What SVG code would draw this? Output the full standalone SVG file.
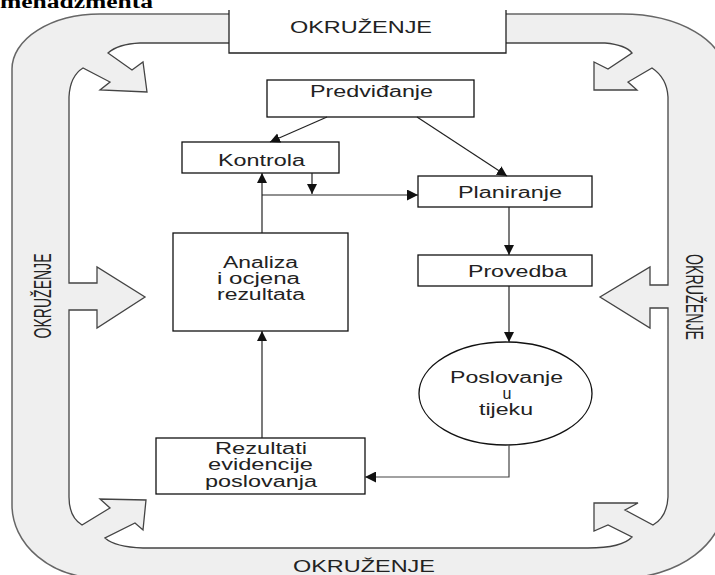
<svg xmlns="http://www.w3.org/2000/svg" width="715" height="575" viewBox="0 0 715 575">
<style>
text{font-family:"Liberation Sans",Arial,sans-serif;fill:#222;}
.lbl{font-size:16px;text-anchor:middle;}
.env{font-size:16px;text-anchor:middle;fill:#222;}
.box{fill:#fff;stroke:#111;stroke-width:1.3;}
.con{fill:none;stroke:#222;stroke-width:1.2;}
.band{fill:#efefef;stroke:#666;stroke-width:1.5;}
.inner{fill:#fff;stroke:#444;stroke-width:1.3;stroke-linejoin:miter;}
</style>
<defs>
<marker id="hv" viewBox="0 0 10 10" refX="10" refY="5" markerUnits="userSpaceOnUse" markerWidth="10" markerHeight="16" orient="auto">
<path d="M0,0 L10,5 L0,10 Z" fill="#111"/>
</marker>
<marker id="hh" viewBox="0 0 10 10" refX="10" refY="5" markerUnits="userSpaceOnUse" markerWidth="12" markerHeight="11" orient="auto">
<path d="M0,0 L10,5 L0,10 Z" fill="#111"/>
</marker>
</defs>
<rect width="715" height="575" fill="#fff"/>
<text x="0" y="8" style="font-family:'Liberation Serif','Times New Roman',serif;font-weight:bold;font-size:18px;fill:#000" textLength="153" lengthAdjust="spacingAndGlyphs">menadžmenta</text>
<g id="okruzenje-frame">
<path class="band" d="M12,69 A88,55 0 0 1 100,14 L622,14 A103,60 0 0 1 725,74 L725,500 A103,78 0 0 1 622,578 L100,578 A88,73 0 0 1 12,505 Z"/>
<path class="inner" d="M69,283 L69,97 Q70,76 83,68 L110,82 L100,90 L147,92 L143,62 L132,70 L108,53 Q118,44 140,43 L605,43 Q626,45 632,53 L608,69 L594,62 L594,90 L637,90 L628,82 L652,68 Q667,78 668,97 L668,285 L650,285 L650,267 L600,297 L650,328 L650,308 L668,308 L668,497 Q667,517 653,525 L625,510 L638,503 L594,503 L594,531 L608,525 L632,537 Q622,548 588,548 L143,548 Q115,547 105,538 L135,523 L143,530 L146,500 L100,499 L110,508 L82,525 Q69,517 69,497 L69,310 L97,310 L97,328 L145,297 L97,267 L97,283 Z"/>
<text class="env" transform="translate(42,296) rotate(-90) scale(1,1.45)" x="0" y="6" textLength="85" lengthAdjust="spacingAndGlyphs" style="font-size:17px">OKRUŽENJE</text>
<text class="env" transform="translate(695,297) rotate(90) scale(1,1.45)" x="0" y="6" textLength="86" lengthAdjust="spacingAndGlyphs" style="font-size:17px">OKRUŽENJE</text>
<text class="env" x="364" y="572" textLength="142" lengthAdjust="spacingAndGlyphs" style="font-size:17px">OKRUŽENJE</text>
</g>
<g id="okruzenje-top">
<rect x="229" y="0" width="277" height="53" fill="#fff"/>
<path d="M229,10 V53 H506 V10" fill="none" stroke="#222" stroke-width="1.3"/>
<text class="env" x="361" y="33" textLength="142" lengthAdjust="spacingAndGlyphs">OKRUŽENJE</text>
</g>
<g id="predvidjanje">
<rect class="box" x="267" y="80" width="207" height="37"/>
<text class="lbl" x="371.5" y="97" textLength="123" lengthAdjust="spacingAndGlyphs">Predviđanje</text>
</g>
<g id="kontrola">
<rect class="box" x="182" y="142" width="157" height="31"/>
<text class="lbl" x="261.5" y="166" textLength="87" lengthAdjust="spacingAndGlyphs">Kontrola</text>
</g>
<g id="planiranje">
<rect class="box" x="418" y="176" width="174" height="31"/>
<text class="lbl" x="510" y="198" textLength="104" lengthAdjust="spacingAndGlyphs">Planiranje</text>
</g>
<g id="provedba">
<rect class="box" x="418" y="255" width="174" height="31"/>
<text class="lbl" x="517.5" y="277" textLength="99" lengthAdjust="spacingAndGlyphs">Provedba</text>
</g>
<g id="analiza">
<rect class="box" x="173" y="233" width="175" height="98"/>
<text class="lbl" x="260.5" y="268" textLength="75" lengthAdjust="spacingAndGlyphs">Analiza</text>
<text class="lbl" x="258.5" y="284" textLength="83" lengthAdjust="spacingAndGlyphs">i ocjena</text>
<text class="lbl" x="261" y="300" textLength="88" lengthAdjust="spacingAndGlyphs">rezultata</text>
</g>
<g id="poslovanje">
<ellipse class="box" cx="505.5" cy="393.5" rx="86.5" ry="51.5"/>
<text class="lbl" x="506.5" y="383" textLength="113" lengthAdjust="spacingAndGlyphs">Poslovanje</text>
<text class="lbl" x="507" y="399">u</text>
<text class="lbl" x="506" y="415" textLength="54" lengthAdjust="spacingAndGlyphs">tijeku</text>
</g>
<g id="rezultati">
<rect class="box" x="156" y="438" width="209" height="56"/>
<text class="lbl" x="261" y="454" textLength="92" lengthAdjust="spacingAndGlyphs">Rezultati</text>
<text class="lbl" x="260.5" y="470" textLength="105" lengthAdjust="spacingAndGlyphs">evidencije</text>
<text class="lbl" x="261" y="487" textLength="112" lengthAdjust="spacingAndGlyphs">poslovanja</text>
</g>
<g id="connectors">
<path class="con" d="M327,117 L270,142" marker-end="url(#hv)"/>
<path class="con" d="M417,117 L507,176" marker-end="url(#hv)"/>
<path class="con" d="M312,173 L312,194" marker-end="url(#hv)"/>
<path class="con" d="M262,195 L418,195" marker-end="url(#hh)"/>
<path class="con" d="M262,233 L262,173" marker-end="url(#hv)"/>
<path class="con" d="M509,207 L509,255" marker-end="url(#hv)"/>
<path class="con" d="M509,286 L509,342" marker-end="url(#hv)"/>
<path class="con" d="M509,445 L509,477 L365,477" marker-end="url(#hh)" style="stroke:#444"/>
<path class="con" d="M262,438 L262,331" marker-end="url(#hv)"/>
</g>
</svg>
